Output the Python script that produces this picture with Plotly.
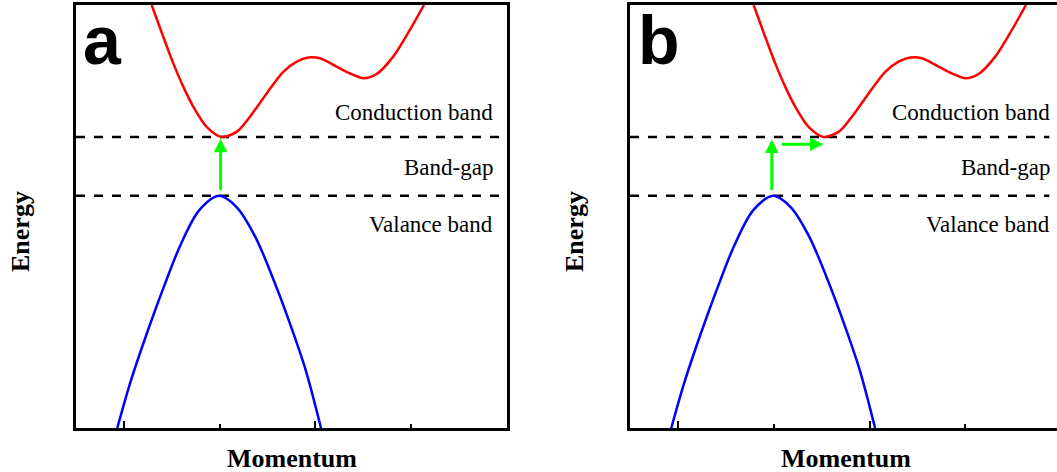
import plotly.graph_objects as go

# ---- data ----
# momentum axis: ticks at 1..4 (major at 1,3 ; minor at 2,4)
major_ticks = [1, 3]
minor_ticks = [2, 4]
x_range_a = [0.5, 5.0]
x_range_b = [0.5, 4.957]
y_range = [0, 10]

# valence band (same in both panels)
val_x = [0.931, 1.065, 1.191, 1.327, 1.431, 1.584, 1.787, 1.996, 2.174, 2.372, 2.591, 2.732, 2.898, 3.058]
val_y = [0.0, 1.06, 1.92, 2.79, 3.42, 4.29, 5.15, 5.49, 5.23, 4.52, 3.34, 2.48, 1.37, 0.0]

# conduction band, panel a (direct gap)
cond_x_a = [1.290, 1.411, 1.516, 1.620, 1.724, 1.864, 2.021, 2.177, 2.316, 2.491, 2.664, 2.804,
            2.925, 3.047, 3.256, 3.395, 3.499, 3.639, 3.812, 3.986, 4.133]
cond_y = [10.0, 9.25, 8.62, 8.07, 7.60, 7.12, 6.88, 7.00, 7.36, 7.91, 8.42, 8.66,
          8.76, 8.74, 8.50, 8.35, 8.27, 8.37, 8.78, 9.41, 10.0]
# conduction band, panel b (indirect gap)
cond_x_b = [1.790, 1.911, 2.016, 2.120, 2.224, 2.364, 2.521, 2.677, 2.816, 2.991, 3.164, 3.304,
            3.425, 3.547, 3.756, 3.895, 3.999, 4.139, 4.312, 4.486, 4.633]

band_levels = [5.49, 6.88]          # valence max, conduction min
labels = ["Conduction band", "Band-gap", "Valance band"]
label_y = [7.45, 6.15, 4.80]

# arrows: (tail_x, tail_y, tip_x, tip_y)
arrows_a = [(2.01, 5.59, 2.01, 6.84)]
arrows_b = [(1.98, 5.59, 1.98, 6.82), (2.07, 6.71, 2.52, 6.71)]

W, H = 1057, 472
SERIF = "Liberation Serif, Times New Roman, serif"
SANS = "Liberation Sans, Arial, sans-serif"

fig = go.Figure()

for xs, xr, xa, ya in [(cond_x_a, x_range_a, "x", "y"), (cond_x_b, x_range_b, "x2", "y2")]:
    for lv in band_levels:
        fig.add_trace(go.Scatter(x=[xr[0], xr[1] - 0.08], y=[lv, lv], mode="lines",
                                 line=dict(color="black", width=2.5, dash="9px,9px"),
                                 xaxis=xa, yaxis=ya, showlegend=False, hoverinfo="skip"))
    fig.add_trace(go.Scatter(x=val_x, y=val_y, mode="lines",
                             line=dict(color="#0000ff", width=2.5, shape="spline", smoothing=0.9),
                             xaxis=xa, yaxis=ya, showlegend=False))
    fig.add_trace(go.Scatter(x=xs, y=cond_y, mode="lines",
                             line=dict(color="#ff0000", width=2.5, shape="spline", smoothing=0.8),
                             xaxis=xa, yaxis=ya, showlegend=False))

axis_common = dict(showgrid=False, zeroline=False, showline=True, linecolor="black",
                   linewidth=2.5)
xa_common = dict(axis_common, tickmode="array", tickvals=major_ticks, ticks="inside",
                 ticklen=7, tickwidth=2, tickcolor="black", showticklabels=False,
                 minor=dict(tickmode="array", tickvals=minor_ticks, ticks="inside",
                            ticklen=4, tickwidth=2, tickcolor="black"))

fig.update_layout(
    width=W, height=H, margin=dict(l=0, r=0, t=0, b=0),
    paper_bgcolor="white", plot_bgcolor="white",
    xaxis=dict(xa_common, domain=[76 / W, 507 / W], range=x_range_a, mirror=True),
    yaxis=dict(axis_common, domain=[(H - 428) / H, (H - 5) / H], range=y_range,
               mirror=True, showticklabels=False, ticks=""),
    xaxis2=dict(xa_common, domain=[630 / W, 1.0], range=x_range_b, mirror=True, anchor="y2"),
    yaxis2=dict(axis_common, domain=[(H - 428) / H, (H - 5) / H], range=y_range,
                mirror=False, showticklabels=False, ticks="", anchor="x2"),
)

ann = []
for xa, ya, right_x, arrows, letter, lx, ex, mx in [
        ("x", "y", 4.874, arrows_a, "a", 0.55, 20, 291.5),
        ("x2", "y2", 4.905, arrows_b, "b", 0.56, 574, 845.5)]:
    for t, ty in zip(labels, label_y):
        ann.append(dict(x=right_x, y=ty, xref=xa, yref=ya, text=t, showarrow=False,
                        xanchor="right", yanchor="middle",
                        font=dict(family=SERIF, size=23, color="black")))
    for (tx, tyy, hx, hy) in arrows:
        ann.append(dict(x=hx, y=hy, ax=tx, ay=tyy, xref=xa, yref=ya, axref=xa, ayref=ya,
                        text="", showarrow=True, arrowhead=2, arrowsize=0.9,
                        arrowwidth=3, arrowcolor="#00ff00", standoff=0))
    ann.append(dict(x=lx, y=9.18, xref=xa, yref=ya, text="<b>%s</b>" % letter, showarrow=False,
                    xanchor="left", yanchor="middle",
                    font=dict(family=SANS, size=68, color="black")))
    ann.append(dict(x=ex / W, y=(H - 232) / H, xref="paper", yref="paper", text="<b>Energy</b>",
                    textangle=-90, showarrow=False, xanchor="center", yanchor="middle",
                    font=dict(family=SERIF, size=26, color="black")))
    ann.append(dict(x=mx / W, y=(H - 458) / H, xref="paper", yref="paper", text="<b>Momentum</b>",
                    showarrow=False, xanchor="center", yanchor="middle",
                    font=dict(family=SERIF, size=26, color="black")))

fig.update_layout(annotations=ann)
fig.write_html("out.html")
